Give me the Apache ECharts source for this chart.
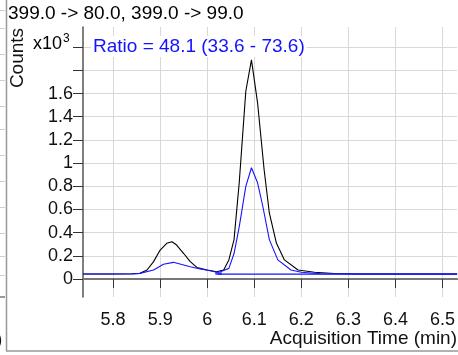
<!DOCTYPE html>
<html><head><meta charset="utf-8">
<script src="https://cdn.jsdelivr.net/npm/echarts@6/dist/echarts.min.js"></script>
<style>html,body{margin:0;padding:0;background:#fff}#c{width:458px;height:355px}</style>
</head><body><div id="c"></div>
<script>
// Data (x in minutes, y in counts x10^3)
const blackX = [5.736,5.80,5.84,5.857,5.872,5.886,5.900,5.914,5.925,5.935,5.950,5.964,5.978,6.000,6.020,6.035,6.046,6.057,6.068,6.082,6.094,6.107,6.121,6.132,6.147,6.164,6.193,6.228,6.27,6.32,6.531];
const blackY = [0.043,0.043,0.045,0.049,0.078,0.150,0.250,0.308,0.322,0.293,0.220,0.150,0.100,0.078,0.063,0.078,0.165,0.340,0.830,1.620,1.890,1.520,0.940,0.570,0.310,0.165,0.078,0.058,0.048,0.044,0.043];
const blueX = [5.736,5.80,5.84,5.857,5.886,5.907,5.928,5.950,5.964,5.985,6.006,6.020,6.028,6.046,6.057,6.068,6.082,6.094,6.107,6.118,6.132,6.150,6.178,6.200,6.24,6.531];
const blueY = [0.043,0.043,0.044,0.049,0.078,0.127,0.144,0.121,0.106,0.086,0.072,0.058,0.063,0.092,0.220,0.450,0.800,0.960,0.830,0.630,0.340,0.165,0.078,0.058,0.045,0.043];
const baseX = [6.022, 6.531];
const baseY = [0.043, 0.043];
const xTicks = [5.8,5.9,6.0,6.1,6.2,6.3,6.4,6.5];
const xTickLabels = ['5.8','5.9','6','6.1','6.2','6.3','6.4','6.5'];
const yTicks = [0,0.2,0.4,0.6,0.8,1.0,1.2,1.4,1.6,1.8,2.0];
const yLabelValues = [0,0.2,0.4,0.6,0.8,1.0,1.2,1.4,1.6];
const yLabelText = ['0','0.2','0.4','0.6','0.8','1','1.2','1.4','1.6'];
const titleA = '399.0 -> 80.0';
const titleB = ', 399.0 -> 99.0';
const ratioText = 'Ratio = 48.1 (33.6 - 73.6)';

const zip = (xs, ys) => xs.map((x, i) => [x, ys[i]]);
const FONT = '"Liberation Sans", Arial, sans-serif';
const BLUE = '#1414ff';

const chart = echarts.init(document.getElementById('c'), null, {renderer: 'canvas'});
const leftLines = [10,28,54,80,106,129,155,181,207,233,256,275].map(y => ({
  type: 'line', shape: {x1: 0, y1: y + 0.5, x2: 5, y2: y + 0.5}, style: {stroke: '#d0d0d0', lineWidth: 1}
}));
chart.setOption({
  animation: false,
  grid: {left: 83, right: 0, top: 27, bottom: 58, containLabel: false},
  xAxis: {
    type: 'value', min: 5.736, max: 6.531,
    axisLine: {show: true, lineStyle: {color: '#777', width: 2}},
    axisTick: {show: true, length: 9, customValues: xTicks, lineStyle: {color: '#333', width: 1}},
    axisLabel: {customValues: xTicks, margin: 14, color: '#111', fontSize: 18, fontFamily: FONT,
      formatter: v => { const i = xTicks.findIndex(t => Math.abs(t - v) < 1e-6); return i >= 0 ? xTickLabels[i] : ''; }},
    splitLine: {show: true, lineStyle: {color: '#d9d9d9', width: 1}}
  },
  yAxis: {
    type: 'value', min: -0.155, max: 2.174,
    axisLine: {show: true, lineStyle: {color: '#555', width: 1.5}},
    axisTick: {show: true, length: 10, customValues: yTicks, lineStyle: {color: '#333', width: 1}},
    axisLabel: {customValues: yLabelValues, margin: 10, color: '#111', fontSize: 18, fontFamily: FONT,
      formatter: v => { const i = yLabelValues.findIndex(t => Math.abs(t - v) < 1e-6); return i >= 0 ? yLabelText[i] : ''; }},
    splitLine: {show: true, lineStyle: {color: '#d9d9d9', width: 1}}
  },
  series: [
    {type: 'line', data: zip(blackX, blackY), showSymbol: false, symbol: 'none',
      lineStyle: {color: '#000', width: 1.1}, z: 3},
    {type: 'line', data: zip(baseX, baseY), showSymbol: false, symbol: 'none',
      lineStyle: {color: BLUE, width: 1.2}, z: 4,
      markArea: {silent: true, itemStyle: {color: BLUE, opacity: 0.8},
        data: [[{coord: [6.017, 0.037]}, {coord: [6.031, 0.058]}]]}},
    {type: 'line', data: zip(blueX, blueY), showSymbol: false, symbol: 'none',
      lineStyle: {color: BLUE, width: 1.1}, z: 5}
  ],
  graphic: [
    ...leftLines,
    {type: 'line', shape: {x1: 0, y1: 297, x2: 5, y2: 297}, style: {stroke: '#777', lineWidth: 1.5}},
    {type: 'line', shape: {x1: 6.5, y1: 0, x2: 6.5, y2: 351}, style: {stroke: '#999', lineWidth: 1.5}},
    {type: 'line', shape: {x1: 6, y1: 351, x2: 458, y2: 351}, style: {stroke: '#999', lineWidth: 1.5}},
    {type: 'text', left: -4, top: 330, style: {text: ')', font: '19px ' + FONT, fill: '#111'}},
    {type: 'text', left: 8, top: 4, style: {
      text: '{a|' + titleA + '}{b|' + titleB + '}',
      rich: {a: {fontSize: 19, fontFamily: FONT, color: '#111'},
             b: {fontSize: 19, fontFamily: FONT, color: BLUE}}}},
    {type: 'text', left: 91, top: 36, z: 100, style: {text: ratioText, font: '19px ' + FONT, fill: BLUE,
      backgroundColor: '#fff', padding: [1, 2, 1, 2]}},
    {type: 'text', x: 18, y: 58, rotation: Math.PI / 2,
      style: {text: 'Counts', font: '19px ' + FONT, fill: '#111', align: 'center', verticalAlign: 'middle'}},
    {type: 'text', left: 33, top: 33, style: {
      text: '{x|x10}{s|3}',
      rich: {x: {fontSize: 18, fontFamily: FONT, color: '#111', verticalAlign: 'bottom'},
             s: {fontSize: 12, fontFamily: FONT, color: '#111', verticalAlign: 'top', padding: [0,0,8,1]}}}},
    {type: 'text', right: 1, top: 329, style: {text: 'Acquisition Time (min)', font: '19px ' + FONT, fill: '#111'}}
  ]
});
</script></body></html>
